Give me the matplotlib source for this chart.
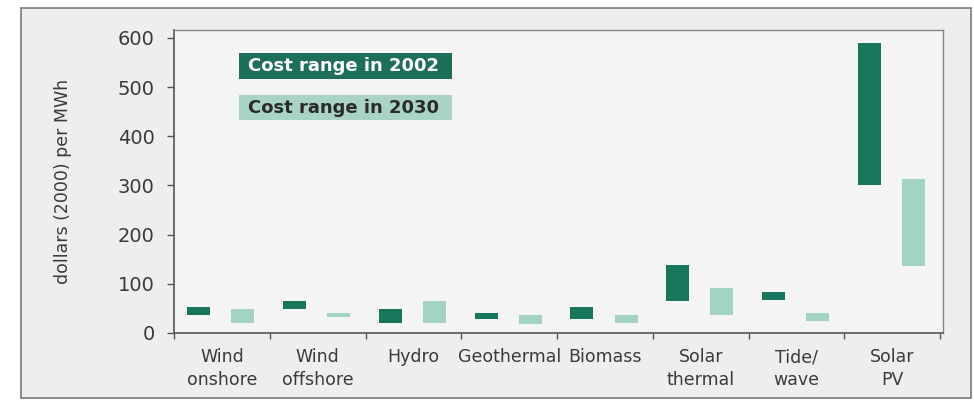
import matplotlib.pyplot as plt
from matplotlib.patches import Rectangle
import numpy as np

categories = ["Wind\nonshore", "Wind\noffshore", "Hydro", "Geothermal",
              "Biomass", "Solar\nthermal", "Tide/\nwave", "Solar\nPV"]

# cost ranges, dollars (2000) per MWh
low2002 = [37, 48, 20, 28, 28, 65, 68, 300]
high2002 = [53, 65, 48, 40, 52, 138, 83, 590]
low2030 = [20, 32, 20, 18, 20, 36, 24, 136]
high2030 = [48, 40, 65, 36, 36, 91, 40, 313]

dark = "#17765b"
light = "#a3d3c2"
textcol = "#3a3a3a"

fig = plt.figure(figsize=(9.74, 4.09), dpi=100)
fig.patch.set_facecolor("white")

# grey panel with thin border behind the whole chart
fig.patches.append(Rectangle((21 / 974, 1 - 398 / 409), (971 - 21) / 974, (398 - 8) / 409,
                             transform=fig.transFigure, facecolor="#eeeeee",
                             edgecolor="#7a7a7a", linewidth=1.2, zorder=-5))

ax = fig.add_axes([174 / 974, 1 - 333 / 409, (943 - 174) / 974, (333 - 30) / 409])
ax.set_facecolor("#f4f4f4")

x = np.arange(len(categories))
w = 0.24
ax.bar(x + 0.26, np.array(high2002) - np.array(low2002), width=w,
       bottom=low2002, color=dark, zorder=3)
ax.bar(x + 0.72, np.array(high2030) - np.array(low2030), width=w,
       bottom=low2030, color=light, zorder=3)

ax.set_xlim(0, 8.03)
ax.set_ylim(0, 616)

ax.set_yticks([0, 100, 200, 300, 400, 500, 600])
ax.tick_params(axis="y", length=5, width=1, color="#555555", pad=9,
               labelsize=14, labelcolor=textcol)

ax.set_xticks(x + 0.5)
ax.set_xticklabels(categories, fontsize=12.5, color=textcol, linespacing=1.35)
ax.tick_params(axis="x", which="major", length=0, pad=11)
ax.set_xticks(np.arange(0, 9), minor=True)
ax.tick_params(axis="x", which="minor", length=4, width=1, color="#555555")

for side in ["left", "bottom"]:
    ax.spines[side].set_color("#555555")
    ax.spines[side].set_linewidth(1.2)
for side in ["top", "right"]:
    ax.spines[side].set_color("#888888")
    ax.spines[side].set_linewidth(1)

ax.set_ylabel("dollars (2000) per MWh", fontsize=12.5, color=textcol)
ax.yaxis.set_label_coords(-0.132, 0.5)

# legend boxes
ax.add_patch(Rectangle((0.0845, 0.838), 0.277, 0.086, transform=ax.transAxes,
                       facecolor="#1d6e5b", edgecolor="none", zorder=4))
ax.add_patch(Rectangle((0.0845, 0.703), 0.277, 0.082, transform=ax.transAxes,
                       facecolor="#a9d4c5", edgecolor="none", zorder=4))
ax.text(0.096, 0.881, "Cost range in 2002", transform=ax.transAxes,
        fontsize=13, fontweight="bold", color="white", va="center", ha="left", zorder=5)
ax.text(0.096, 0.744, "Cost range in 2030", transform=ax.transAxes,
        fontsize=13, fontweight="bold", color="#2a2a2a", va="center", ha="left", zorder=5)

fig.savefig("out.png", dpi=100, facecolor=fig.get_facecolor())
